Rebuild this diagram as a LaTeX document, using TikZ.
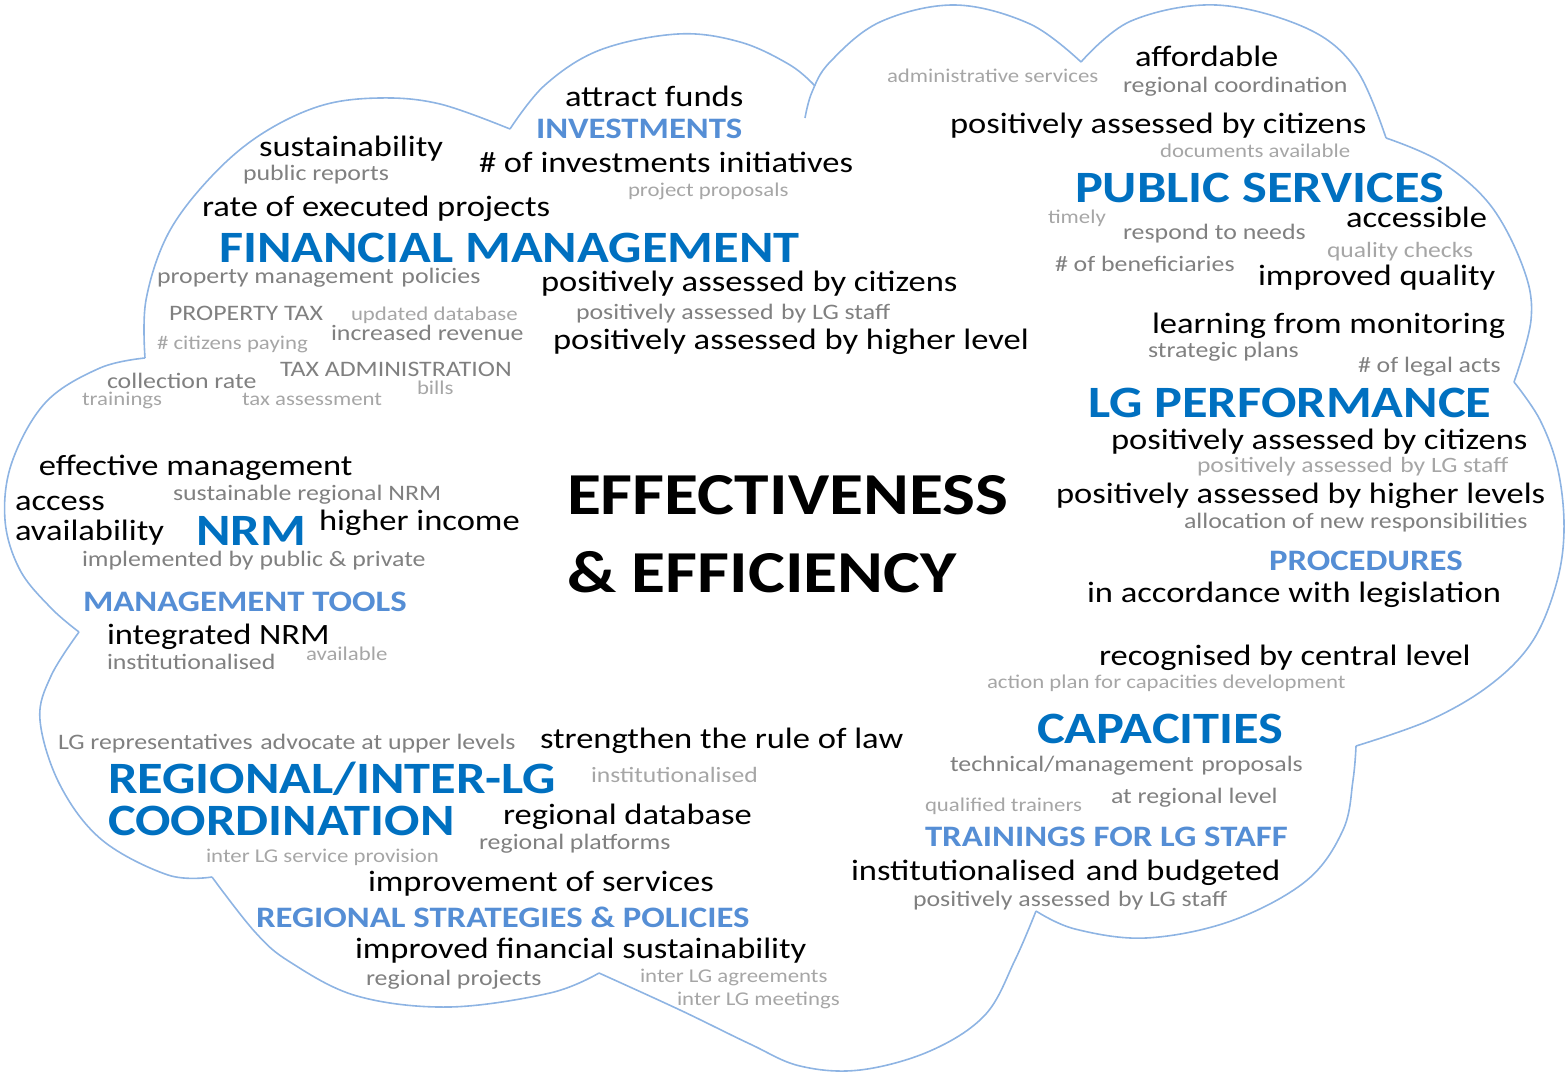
\documentclass[tikz,border=0pt]{standalone}
\usepackage{fontspec}
\setmainfont[FakeStretch=1.17]{Carlito}
\definecolor{dblue}{HTML}{0070C0}
\definecolor{lblue}{HTML}{558ED5}
\definecolor{gmed}{HTML}{808080}
\definecolor{glight}{HTML}{A6A6A6}
\definecolor{cloudline}{HTML}{8EB4E3}
\newcommand{\wsp}{\ \hspace{0.08em}}
\tikzset{
  w/.style={anchor=base west, inner sep=0pt, outer sep=0pt},
  blk/.style={w, text=black, font=\fontsize{14.75}{16}\selectfont},
  gm/.style={w, text=gmed, font=\fontsize{11.05}{12}\selectfont},
  gl/.style={w, text=glight, font=\fontsize{9.75}{11}\selectfont},
  glb/.style={w, text=glight, font=\fontsize{10.95}{12}\selectfont},
  hd/.style={w, text=dblue, font=\bfseries\fontsize{22.4}{24}\selectfont},
  hl/.style={w, text=lblue, font=\bfseries\fontsize{14.85}{16}\selectfont},
  big/.style={w, text=black, font=\bfseries\fontsize{29.75}{32}\selectfont},
  cl/.style={draw=cloudline, line width=0.8pt, line join=round}
}
\begin{document}
\begin{tikzpicture}[x=0.5pt,y=-0.5pt]
\useasboundingbox (0,0) rectangle (1566,1074);
% cloud outline
\draw[cl] plot[smooth, tension=0.6] coordinates {(145,358) (146,300) (168,234) (210,178) (260,135) (320,106) (380,98) (440,104) (510,129)};
\draw[cl] plot[smooth, tension=0.6] coordinates {(510,129) (545,85) (600,50) (678,34) (740,42) (790,65) (815,86)};
\draw[cl] plot[smooth, tension=0.6] coordinates {(805,118) (812,92) (830,62) (880,22) (955,5) (1030,24) (1081,62)};
\draw[cl] plot[smooth, tension=0.6] coordinates {(1081,62) (1131,21) (1216,5) (1306,28) (1356,69) (1386,138)};
\draw[cl] plot[smooth, tension=0.6] coordinates {(1386,138) (1441,162) (1491,206) (1524,270) (1531,320) (1514,382)};
\draw[cl] plot[smooth, tension=0.6] coordinates {(1514,382) (1540,420) (1558,470) (1564,530) (1556,585) (1532,642) (1490,685) (1430,720) (1356,746)};
\draw[cl] plot[smooth, tension=0.6] coordinates {(1356,746) (1353,780) (1343,830) (1306,881) (1231,921) (1146,938) (1075,929) (1036,911)};
\draw[cl] plot[smooth, tension=0.6] coordinates {(1036,911) (1015,960) (985,1015) (930,1051) (860,1070) (800,1066) (750,1044) (680,1010) (599,973)};
\draw[cl] plot[smooth, tension=0.6] coordinates {(599,973) (550,993) (449,1007) (357,996) (290,962) (255,932) (212,877)};
\draw[cl] plot[smooth, tension=0.6] coordinates {(212,877) (168,875) (102,840) (60,785) (40,720) (51,676) (79,632)};
\draw[cl] plot[smooth, tension=0.6] coordinates {(79,632) (51,608) (20,570) (5,520) (12,462) (46,402) (100,368) (145,358)};
% top-left
\node[blk] (t1) at (565,107) {attract funds};
\node[hl] (t2) at (536,139) {INVESTMENTS};
\node[blk] (t3) at (259,157) {sustainability};
\node[gm] (t4) at (243,181) {public reports};
\node[blk] (t5) at (479,173) {\# of investments initiatives};
\node[gl] (t6) at (628,197) {project proposals};
\node[blk] (t7) at (202,217) {rate of executed projects};
\node[hd] (t8) at (219,263) {FINANCIAL MANAGEMENT};
\node[gm] (t9) at (157,284) {property management\wsp policies};
\node[blk] (t10) at (541,292) {positively assessed by citizens};
\node[gm] (t11) at (169,321) {PROPERTY TAX};
\node[gl] (t12) at (351,321) {updated database};
\node[gm] (t13) at (576,320) {positively assessed\wsp by LG staff};
\node[gl] (t14) at (157,350) {\# citizens paying};
\node[gm] (t15) at (331,341) {increased revenue};
\node[blk] (t16) at (553,350) {positively assessed by higher level};
\node[gm] (t17) at (280,377) {TAX ADMINISTRATION};
\node[gm] (t18) at (107,389) {collection rate};
\node[gl] (t19) at (417,394) {bills};
\node[gl] (t20) at (82,406) {trainings};
\node[gl] (t21) at (242,406) {tax assessment};
% top-right
\node[gl] (t22) at (887,83) {administrative services};
\node[blk] (t23) at (1135,67) {affordable};
\node[gm] (t24) at (1123,93) {regional coordination};
\node[blk] (t25) at (950,134) {positively assessed by citizens};
\node[gl] (t26) at (1160,158) {documents available};
\node[hd] (t27) at (1075,203) {PUBLIC SERVICES};
\node[gl] (t28) at (1048,224) {timely};
\node[blk] (t29) at (1346,228) {accessible};
\node[gm] (t30) at (1123,240) {respond to needs};
\node[glb] (t31) at (1327,258) {quality checks};
\node[gm] (t32) at (1055,272) {\# of beneficiaries};
\node[blk] (t33) at (1258,286) {improved quality};
\node[blk] (t34) at (1152,334) {learning from monitoring};
\node[gm] (t35) at (1148,358) {strategic plans};
\node[gm] (t36) at (1358,372) {\# of legal acts};
\node[hd] (t37) at (1088,417) {LG PERFORMANCE};
\node[blk] (t38) at (1111,449) {positively assessed by citizens};
\node[glb] (t39) at (1197,473) {positively assessed\wsp by LG staff};
\node[blk] (t40) at (1056,503) {positively assessed by higher levels};
\node[gm] (t41) at (1184,528) {allocation of new responsibilities};
\node[hl] (t42) at (1269,570) {PROCEDURES};
\node[blk] (t43) at (1087,602) {in accordance with legislation};
% centre
\node[big] (t44) at (567,514) {EFFECTIVENESS};
\node[big] (t45) at (567,592) {\& EFFICIENCY};
% left
\node[blk] (t46) at (39,475) {effective management};
\node[blk] (t47) at (15,510) {access};
\node[gm] (t48) at (173,500) {sustainable regional NRM};
\node[blk] (t49) at (15,540) {availability};
\node[hd] (t50) at (196,545) {NRM};
\node[blk] (t51) at (319,530) {higher income};
\node[gm] (t52) at (82,566) {implemented by public \& private};
\node[hl] (t53) at (83,611) {MANAGEMENT TOOLS};
\node[blk] (t54) at (107,644) {integrated NRM};
\node[gm] (t55) at (107,669) {institutionalised};
\node[gl] (t56) at (306,660) {available};
% bottom-left
\node[gm] (t57) at (58,749) {LG representatives\wsp advocate at upper levels};
\node[blk] (t58) at (540,748) {strengthen the rule of law};
\node[hd] (t59) at (108,793) {REGIONAL/INTER-LG};
\node[hd] (t60) at (108,835) {COORDINATION};
\node[glb] (t61) at (591,782) {institutionalised};
\node[blk] (t62) at (503,824) {regional database};
\node[gm] (t63) at (479,849) {regional platforms};
\node[gl] (t64) at (206,862) {inter LG service provision};
\node[blk] (t65) at (368,891) {improvement of services};
\node[hl] (t66) at (256,927) {REGIONAL STRATEGIES \& POLICIES};
\node[blk] (t67) at (355,958) {improved financial sustainability};
\node[gm] (t68) at (366,985) {regional projects};
\node[gl] (t69) at (640,982) {inter LG agreements};
\node[gl] (t70) at (677,1005) {inter LG meetings};
% bottom-right
\node[blk] (t71) at (1099,665) {recognised by central level};
\node[gl] (t72) at (987,688) {action plan for capacities development};
\node[hd] (t73) at (1037,743) {CAPACITIES};
\node[gm] (t74) at (950,771) {technical/management\wsp proposals};
\node[gl] (t75) at (925,811) {qualified trainers};
\node[gm] (t76) at (1111,803) {at regional level};
\node[hl] (t77) at (925,846) {TRAININGS FOR LG STAFF};
\node[blk] (t78) at (851,880) {institutionalised\wsp and budgeted};
\node[gm] (t79) at (913,906) {positively assessed\wsp by LG staff};
\end{tikzpicture}
\end{document}
